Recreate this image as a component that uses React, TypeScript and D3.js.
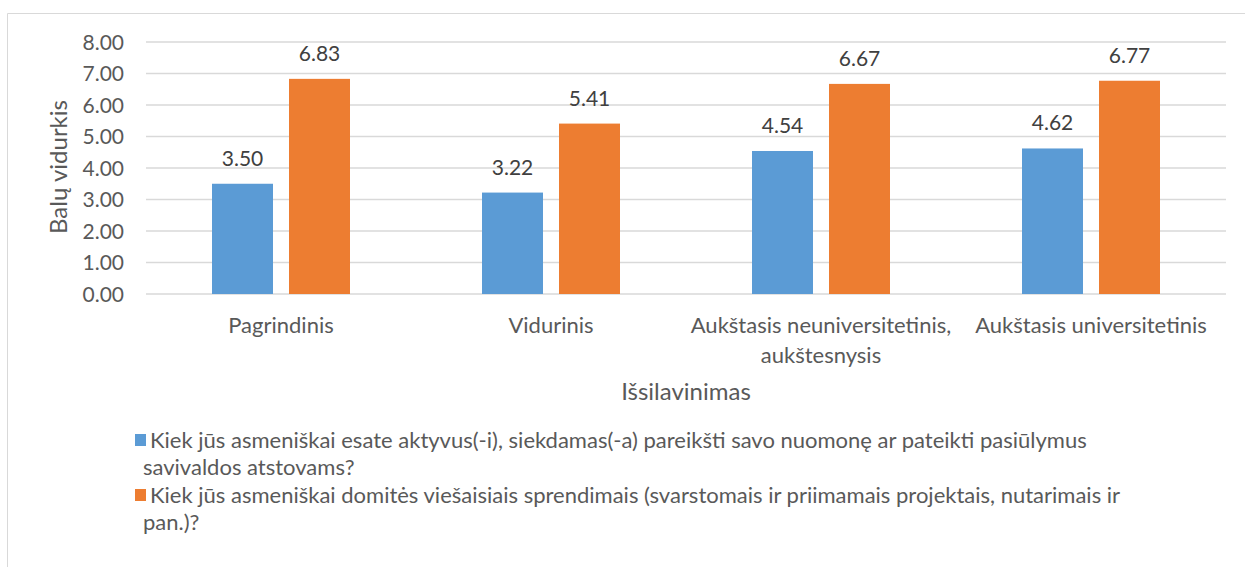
import React from 'react';
import * as d3 from 'd3';

// chart data
const categories = [
	['Pagrindinis'],
	['Vidurinis'],
	['Aukštasis neuniversitetinis,', 'aukštesnysis'],
	['Aukštasis universitetinis'],
];
const activeValues = [3.5, 3.22, 4.54, 4.62];
const interestValues = [6.83, 5.41, 6.67, 6.77];
const yTicks = [0, 1, 2, 3, 4, 5, 6, 7, 8];
const legendLines = [
	['Kiek jūs asmeniškai esate aktyvus(-i), siekdamas(-a) pareikšti savo nuomonę ar pateikti pasiūlymus', 'savivaldos atstovams?'],
	['Kiek jūs asmeniškai domitės viešaisiais sprendimais (svarstomais ir priimamais projektais, nutarimais ir', 'pan.)?'],
];
const colors = ['#5B9BD5', '#ED7D31'];

const FONT = 'Lato, "Open Sans", sans-serif';
const TEXT = '#595959';

export default function App() {
	const width = 1245;
	const height = 567;
	const margin = { top: 42, left: 146, right: 19, bottom: 273 };
	const plotW = width - margin.left - margin.right;
	const plotH = height - margin.top - margin.bottom;

	const x = d3.scaleBand<number>()
		.domain(d3.range(categories.length))
		.range([0, plotW]);
	const y = d3.scaleLinear().domain([0, 8]).range([plotH, 0]);

	const barW = 61;
	const gap = 16;
	const series = [activeValues, interestValues];
	const fmt = d3.format('.2f');

	return (
		<div style={{ position: 'absolute', left: 0, top: 0 }}>
			<svg width={width} height={height} style={{ display: 'block', fontFamily: FONT }}>
				<rect x={0} y={0} width={width} height={height} fill="#fff" />
				{/* chart border */}
				<path d={`M7.5,${height}V13.5H${width}`} fill="none" stroke="#D9D9D9" strokeWidth={1} />

				<g transform={`translate(${margin.left},${margin.top})`}>
					{/* grid */}
					{yTicks.map((t) => (
						<g key={t}>
							<line x1={0} x2={plotW} y1={y(t)} y2={y(t)} stroke="#D9D9D9" strokeWidth={1.3} />
							<text x={-22} y={y(t)} dy="0.36em" textAnchor="end" fontSize={21} fill={TEXT}>{fmt(t)}</text>
						</g>
					))}

					{/* bars */}
					{series.map((vals, s) => (
						<g key={s}>
							{vals.map((v, i) => {
								const cx = (x(i) as number) + x.bandwidth() / 2;
								const bx = s === 0 ? cx - gap / 2 - barW : cx + gap / 2;
								return (
									<g key={i}>
										<rect x={bx} y={y(v)} width={barW} height={plotH - y(v)} fill={colors[s]} />
										<text x={bx + barW / 2} y={y(v) - 18} textAnchor="middle" fontSize={21} fill="#404040">{fmt(v)}</text>
									</g>
								);
							})}
						</g>
					))}

					{/* category labels */}
					{categories.map((lines, i) => (
						<text key={i} x={(x(i) as number) + x.bandwidth() / 2} y={plotH + 39} textAnchor="middle" fontSize={22} fill={TEXT}>
							{lines.map((l, k) => (
								<tspan key={k} x={(x(i) as number) + x.bandwidth() / 2} dy={k === 0 ? 0 : 30}>{l}</tspan>
							))}
						</text>
					))}

					<text x={plotW / 2} y={plotH + 106} textAnchor="middle" fontSize={24} fill={TEXT}>Išsilavinimas</text>
				</g>

				<text transform={`translate(67,${margin.top + plotH / 2 - 1}) rotate(-90)`} textAnchor="middle" fontSize={24} fill={TEXT}>Balų vidurkis</text>

				{/* legend */}
				{legendLines.map((lines, s) => {
					const ly = 448 + s * 55;
					return (
						<g key={s}>
							<rect x={135} y={ly - 14} width={11} height={12} fill={colors[s]} />
							<text x={150} y={ly} fontSize={22} fill={TEXT}>
								{lines.map((l, k) => (
									<tspan key={k} x={k === 0 ? 150 : 143} dy={k === 0 ? 0 : 27}>{l}</tspan>
								))}
							</text>
						</g>
					);
				})}
			</svg>
		</div>
	);
}
